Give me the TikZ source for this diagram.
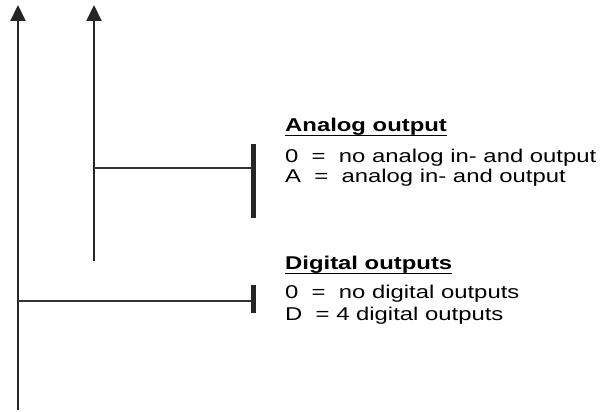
\documentclass[tikz,border=0pt]{standalone}
\usepackage{fontspec}
\setmainfont{Liberation Sans}[FakeStretch=1.29]
\usetikzlibrary{arrows.meta}
\begin{document}
\begin{tikzpicture}[x=1pt,y=-1pt,
  axis/.style={line width=2pt,draw=black!85,-{Triangle[width=15pt,length=16pt]}},
  branch/.style={line width=1.5pt,draw=black!80},
  endbar/.style={line width=5pt,draw=black!85},
  uline/.style={line width=1.4pt,draw=black},
  txt/.style={anchor=base west,inner sep=0pt,font=\fontsize{18.5pt}{21pt}\selectfont},
  head/.style={txt,font=\fontsize{18.5pt}{21pt}\selectfont\bfseries}]
\useasboundingbox (0,0) rectangle (605,412);
% axes
\coordinate (a1s) at (18,410);
\coordinate (a1e) at (18,5);
\coordinate (a2s) at (94,261);
\coordinate (a2e) at (94,5);
\draw[axis] (a1s) -- (a1e);
\draw[axis] (a2s) -- (a2e);
% analog branch
\coordinate (b1s) at (94,168);
\coordinate (b1e) at (253.5,168);
\coordinate (bar1t) at (253.5,144);
\coordinate (bar1b) at (253.5,218);
\draw[branch] (b1s) -- (b1e);
\draw[endbar] (bar1t) -- (bar1b);
% digital branch
\coordinate (b2s) at (18,301);
\coordinate (b2e) at (253.5,301);
\coordinate (bar2t) at (253.5,285);
\coordinate (bar2b) at (253.5,313);
\draw[branch] (b2s) -- (b2e);
\draw[endbar] (bar2t) -- (bar2b);
% texts
\node[head] (ah) at (285,131.5) {Analog output};
\draw[uline] ([yshift=-4pt]ah.base west) -- ([yshift=-4pt]ah.base east);
\node[txt] (a0) at (285,162.5) {0\ \ =\ \ no analog in- and output};
\node[txt] (aA) at (285,182.3) {A\ \ =\ \ analog in- and output};
\node[head] (dh) at (285,269.5) {Digital outputs};
\draw[uline] ([yshift=-4pt]dh.base west) -- ([yshift=-4pt]dh.base east);
\node[txt] (d0) at (285,298.8) {0\ \ =\ \ no digital outputs};
\node[txt] (dD) at (285,320.3) {D\ \ = 4 digital outputs};
\end{tikzpicture}
\end{document}
